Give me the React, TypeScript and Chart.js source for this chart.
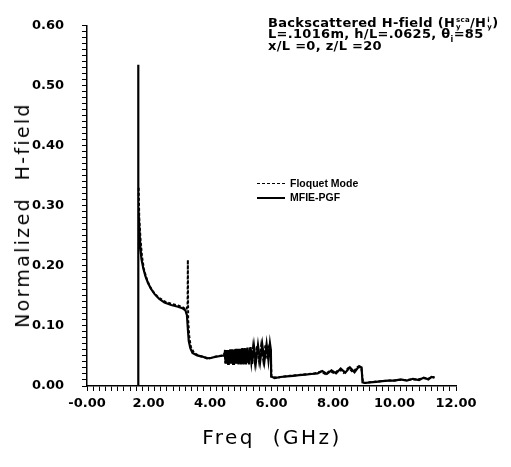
import React, { useEffect, useRef } from "react";
import { Chart, registerables } from "chart.js";

Chart.register(...registerables);

// ---- Data ----
const freqMfie = [
  1.66, 1.66, 1.665, 1.68, 1.7, 1.73, 1.77, 1.83, 1.9, 1.98, 2.08, 2.2, 2.35, 2.52, 2.74, 2.96, 3.12, 3.2, 3.25, 3.28, 3.31, 3.36, 3.43, 3.58, 3.75, 3.9, 4.05, 4.2, 4.35, 4.45,
  4.47, 4.49, 4.51, 4.53, 4.55, 4.57, 4.59, 4.61, 4.63, 4.66, 4.69, 4.72, 4.75, 4.78, 4.81, 4.84, 4.87, 4.9, 4.93, 4.97,
  5.01, 5.05, 5.09, 5.13, 5.17, 5.22, 5.27, 5.32, 5.37, 5.43, 5.49, 5.56, 5.63, 5.7, 5.77, 5.84, 5.9, 5.95, 5.98, 5.99,
  6.1, 6.3, 6.5, 6.7, 6.9, 7.1, 7.3, 7.5, 7.65, 7.8, 7.95, 8.1, 8.25, 8.4, 8.55, 8.7, 8.85, 8.93, 8.96,
  9.05, 9.2, 9.4, 9.6, 9.8, 10.0, 10.2, 10.4, 10.6, 10.8, 10.95, 11.1, 11.2, 11.3,
];
const hMfie = [
  0, 0.535, 0.35, 0.3, 0.265, 0.235, 0.212, 0.196, 0.183, 0.172, 0.162, 0.153, 0.145, 0.139, 0.135, 0.132, 0.129, 0.126, 0.118, 0.095, 0.075, 0.063, 0.055, 0.051, 0.049, 0.046, 0.047, 0.049, 0.05, 0.051,
  0.05, 0.06, 0.037, 0.06, 0.037, 0.06, 0.037, 0.06, 0.037, 0.061, 0.037, 0.061, 0.037, 0.061, 0.037, 0.062, 0.037, 0.062, 0.036, 0.062,
  0.036, 0.063, 0.036, 0.063, 0.036, 0.064, 0.036, 0.065, 0.037, 0.066, 0.038, 0.068, 0.04, 0.069, 0.041, 0.07, 0.043, 0.071, 0.06, 0.016,
  0.013, 0.015, 0.016, 0.017, 0.018, 0.019, 0.02, 0.021, 0.025, 0.02, 0.026, 0.021, 0.029, 0.022, 0.031, 0.023, 0.033, 0.031, 0.006,
  0.005, 0.006, 0.007, 0.008, 0.009, 0.009, 0.011, 0.009, 0.012, 0.01, 0.014, 0.011, 0.015, 0.014,
];

const freqFloquet = [
  1.68, 1.7, 1.74, 1.79, 1.85, 1.93, 2.04, 2.15, 2.31, 2.52, 2.74, 2.96, 3.12, 3.23, 3.27, 3.28, 3.29, 3.33, 3.38, 3.48,
  3.66, 3.82, 3.98, 4.12, 4.28, 4.42,
  4.48, 4.5, 4.52, 4.54, 4.56, 4.58, 4.6, 4.62, 4.645, 4.675, 4.705, 4.735, 4.765, 4.795, 4.825, 4.855, 4.885, 4.915, 4.95, 4.99,
  5.03, 5.07, 5.11, 5.15, 5.195, 5.245, 5.295, 5.345, 5.4, 5.46, 5.525, 5.595, 5.665, 5.735, 5.805, 5.87, 5.93, 5.97, 6.0,
  6.2, 6.4, 6.6, 6.8, 7.0, 7.2, 7.4, 7.6, 7.75, 7.9, 8.05, 8.2, 8.35, 8.5, 8.65, 8.8, 8.92,
  8.98, 9.15, 9.35, 9.55, 9.75, 9.95, 10.15, 10.35, 10.55, 10.75, 10.95, 11.1, 11.2, 11.3,
];
const hFloquet = [
  0.33, 0.28, 0.245, 0.215, 0.195, 0.18, 0.166, 0.157, 0.148, 0.141, 0.137, 0.134, 0.131, 0.127, 0.134, 0.21, 0.11, 0.08, 0.065, 0.055,
  0.05, 0.048, 0.046, 0.048, 0.05, 0.051,
  0.055, 0.038, 0.059, 0.038, 0.059, 0.038, 0.059, 0.038, 0.06, 0.038, 0.06, 0.038, 0.06, 0.038, 0.061, 0.038, 0.061, 0.037, 0.061, 0.037,
  0.062, 0.037, 0.062, 0.037, 0.063, 0.037, 0.064, 0.038, 0.065, 0.039, 0.067, 0.041, 0.068, 0.042, 0.069, 0.044, 0.07, 0.06, 0.015,
  0.014, 0.016, 0.017, 0.018, 0.019, 0.02, 0.021, 0.024, 0.02, 0.025, 0.021, 0.028, 0.022, 0.03, 0.023, 0.032, 0.03,
  0.005, 0.006, 0.007, 0.008, 0.009, 0.009, 0.01, 0.01, 0.011, 0.011, 0.013, 0.012, 0.014, 0.015,
];

const xMajorTicks = [0, 2, 4, 6, 8, 10, 12];
const xTickLabels = ["-0.00", "2.00", "4.00", "6.00", "8.00", "10.00", "12.00"];
const yMajorTicks = [0, 0.1, 0.2, 0.3, 0.4, 0.5, 0.6];
const yTickLabels = ["0.00", "0.10", "0.20", "0.30", "0.40", "0.50", "0.60"];

const seriesNames = ["Floquet Mode", "MFIE-PGF"];

function labelFor(v: number, majors: number[], labels: string[]) {
  for (let i = 0; i < majors.length; i++) {
    if (Math.abs(v - majors[i]) < 1e-6) return labels[i];
  }
  return "";
}

const W = 511;
const H = 467;

export default function App() {
  const ref = useRef<HTMLCanvasElement | null>(null);

  useEffect(() => {
    document.body.style.margin = "0";
    const canvas = ref.current;
    if (!canvas) return;
    const tickFont = { family: "'DejaVu Sans', sans-serif", size: 13, weight: "bold" as const };
    const chart = new Chart(canvas, {
      type: "line",
      data: {
        datasets: [
          {
            label: seriesNames[1],
            data: freqMfie.map((f, i) => ({ x: f, y: hMfie[i] })),
            borderColor: "#000",
            borderWidth: 2.2,
            pointRadius: 0,
            tension: 0,
            fill: false,
          },
          {
            label: seriesNames[0],
            data: freqFloquet.map((f, i) => ({ x: f, y: hFloquet[i] })),
            borderColor: "#000",
            borderWidth: 2,
            borderDash: [3, 2],
            pointRadius: 0,
            tension: 0,
            fill: false,
          },
        ],
      },
      options: {
        responsive: false,
        animation: false,
        devicePixelRatio: 1,
        layout: { padding: { top: 16, right: 55, left: 0, bottom: 0 } },
        plugins: { legend: { display: false }, tooltip: { enabled: false } },
        scales: {
          x: {
            type: "linear",
            min: 0,
            max: 12,
            afterFit: (s: any) => {
              s.height = 81;
            },
            border: { display: true, color: "#000", width: 1.5 },
            grid: { display: true, drawOnChartArea: false, drawTicks: true, tickLength: 5, color: "#000", lineWidth: 1 },
            ticks: {
              stepSize: 0.2,
              autoSkip: false,
              maxRotation: 0,
              minRotation: 0,
              padding: 5,
              color: "#000",
              font: tickFont,
              callback: (v: any) => labelFor(Number(v), xMajorTicks, xTickLabels),
            },
          },
          y: {
            type: "linear",
            min: 0,
            max: 0.6,
            afterFit: (s: any) => {
              s.width = 87;
            },
            border: { display: true, color: "#000", width: 1.5 },
            grid: { display: true, drawOnChartArea: false, drawTicks: true, tickLength: 5, color: "#000", lineWidth: 1 },
            ticks: {
              stepSize: 0.01,
              autoSkip: false,
              padding: 18,
              color: "#000",
              font: tickFont,
              callback: (v: any) => labelFor(Number(v), yMajorTicks, yTickLabels),
            },
          },
        },
      },
    });
    return () => chart.destroy();
  }, []);

  const annFont: React.CSSProperties = {
    position: "absolute",
    fontFamily: "'DejaVu Sans', sans-serif",
    fontWeight: "bold",
    fontSize: 13,
    letterSpacing: 0.3,
    color: "#000",
    whiteSpace: "nowrap",
    lineHeight: "14px",
  };
  const legFont: React.CSSProperties = {
    ...annFont,
    fontFamily: "'Liberation Sans', Arial, sans-serif",
    fontSize: 10.5,
    letterSpacing: 0,
  };
  const stack = (top: string, bottom: string) => (
    <span
      style={{
        display: "inline-flex",
        flexDirection: "column",
        fontSize: 7,
        lineHeight: "7px",
        verticalAlign: "middle",
        marginLeft: 1,
      }}
    >
      <span>{top}</span>
      <span>{bottom}</span>
    </span>
  );

  return (
    <div style={{ position: "fixed", left: 0, top: 0, width: W, height: H, background: "#fff" }}>
      <canvas ref={ref} width={W} height={H} style={{ display: "block", width: W, height: H }} />
      {/* annotation */}
      <div style={{ ...annFont, left: 268, top: 16 }}>
        Backscattered H-field (H{stack("sca", "y")}/H{stack("i", "y")})
      </div>
      <div style={{ ...annFont, left: 268, top: 27 }}>
        L=.1016m, h/L=.0625, θ<sub style={{ fontSize: 8 }}>i</sub>=85
      </div>
      <div style={{ ...annFont, left: 268, top: 39 }}>x/L =0, z/L =20</div>
      {/* legend */}
      <div style={{ position: "absolute", left: 257, top: 183, width: 28, borderTop: "1.5px dashed #000" }} />
      <div style={{ ...legFont, left: 290, top: 176 }}>{seriesNames[0]}</div>
      <div style={{ position: "absolute", left: 257, top: 197, width: 28, borderTop: "2px solid #000" }} />
      <div style={{ ...legFont, left: 290, top: 190 }}>{seriesNames[1]}</div>
      {/* axis titles */}
      <div
        style={{
          position: "absolute",
          left: 22,
          top: 215,
          transform: "translate(-50%, -50%) rotate(-90deg)",
          fontFamily: "'DejaVu Sans', sans-serif",
          fontSize: 19,
          letterSpacing: 2.3,
          whiteSpace: "nowrap",
          color: "#000",
        }}
      >
        Normalized&nbsp; H-field
      </div>
      <div
        style={{
          position: "absolute",
          left: 272,
          top: 437,
          transform: "translate(-50%, -50%)",
          fontFamily: "'DejaVu Sans', sans-serif",
          fontSize: 20,
          letterSpacing: 2.5,
          whiteSpace: "nowrap",
          color: "#000",
        }}
      >
        Freq&nbsp; (GHz)
      </div>
    </div>
  );
}
